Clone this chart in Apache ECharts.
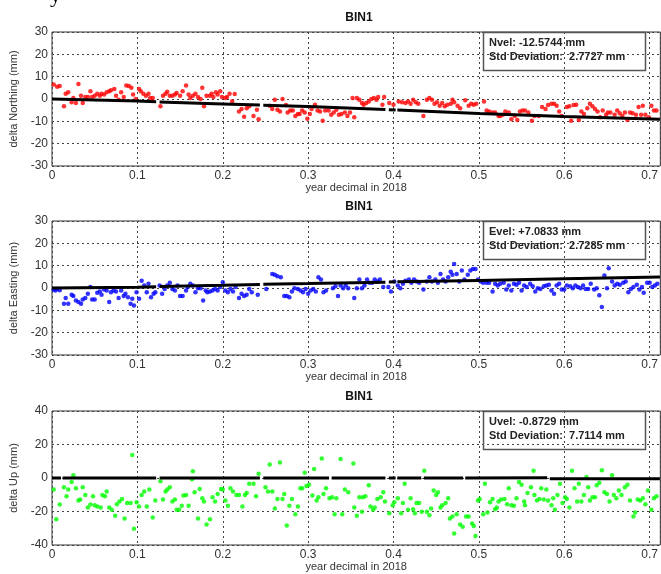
<!DOCTYPE html>
<html><head><meta charset="utf-8">
<script src="https://cdn.jsdelivr.net/npm/echarts@6/dist/echarts.min.js"></script>
<style>html,body{margin:0;padding:0;background:#fff}#c{width:661px;height:574px}</style>
</head><body><div id="c"></div>
<script>
// ---------- data ----------
const panelTitles = ['BIN1', 'BIN1', 'BIN1'];
const yAxisNames = ['delta Northing (mm)', 'delta Easting (mm)', 'delta Up (mm)'];
const xAxisName = 'year decimal in 2018';
const yRanges = [[-30, 30, 10], [-30, 30, 10], [-40, 40, 20]];
const xRange = [0, 0.7125, 0.1];
const boxTexts = [
  ['Nvel: -12.5744 mm', 'Std Deviation:  2.7727 mm'],
  ['Evel: +7.0833 mm', 'Std Deviation:  2.7285 mm'],
  ['Uvel: -0.8729 mm', 'Std Deviation:  7.7114 mm']
];
const seriesColors = ['#ff0000', '#0000ff', '#00ff00'];

const north = [[0.002,6.5],[0.006,5.5],[0.009,5.8],[0.014,-3.3],[0.016,2.4],[0.019,3.0],[0.023,-1.5],[0.025,0.5],[0.028,-1.8],[0.031,6.7],[0.034,1.5],[0.036,-1.8],[0.039,0.9],[0.042,0.9],[0.045,3.5],[0.047,0.9],[0.050,1.5],[0.053,2.4],[0.056,1.5],[0.058,2.4],[0.061,2.0],[0.064,3.0],[0.067,3.5],[0.069,3.9],[0.073,4.5],[0.075,1.5],[0.078,-0.3],[0.081,3.0],[0.084,0.9],[0.087,6.1],[0.090,5.8],[0.093,5.0],[0.095,2.0],[0.098,0.0],[0.102,4.5],[0.104,3.5],[0.107,2.4],[0.110,1.5],[0.113,2.4],[0.115,0.5],[0.118,0.5],[0.127,-3.3],[0.130,1.5],[0.133,2.4],[0.135,3.3],[0.138,1.5],[0.141,1.5],[0.144,2.0],[0.146,2.7],[0.150,1.5],[0.153,3.5],[0.157,6.1],[0.160,2.0],[0.162,0.5],[0.165,1.5],[0.168,2.4],[0.171,0.9],[0.174,0.0],[0.176,5.0],[0.178,-3.3],[0.181,1.5],[0.185,1.5],[0.187,2.4],[0.189,0.9],[0.192,3.0],[0.194,2.0],[0.197,3.5],[0.199,0.9],[0.203,0.5],[0.205,0.9],[0.208,2.4],[0.211,-1.0],[0.214,2.2],[0.219,-5.6],[0.222,-4.5],[0.225,-7.9],[0.228,-4.1],[0.231,-3.3],[0.236,-7.6],[0.240,-4.8],[0.242,-9.1],[0.255,-3.0],[0.258,-4.5],[0.261,-0.3],[0.264,-4.8],[0.267,-5.6],[0.270,0.0],[0.274,-2.7],[0.276,-6.1],[0.279,-5.2],[0.282,-5.2],[0.285,-7.6],[0.288,-6.7],[0.290,-6.7],[0.293,-5.2],[0.296,-6.1],[0.299,-8.8],[0.302,-6.7],[0.304,-4.5],[0.308,-2.6],[0.311,-5.2],[0.314,-5.6],[0.317,-9.7],[0.320,-5.2],[0.324,-5.2],[0.327,-7.1],[0.330,-6.1],[0.333,-4.8],[0.336,-7.1],[0.339,-6.7],[0.343,-6.1],[0.346,-7.6],[0.349,-6.1],[0.352,0.5],[0.354,-8.2],[0.357,0.5],[0.360,-0.3],[0.363,-1.8],[0.365,-2.6],[0.368,-1.8],[0.371,-1.1],[0.374,0.0],[0.377,0.5],[0.380,-0.3],[0.382,0.9],[0.387,-2.6],[0.389,0.9],[0.395,-1.8],[0.400,-2.6],[0.406,-1.1],[0.410,-1.5],[0.414,-1.8],[0.417,-1.1],[0.420,-2.1],[0.423,-0.3],[0.426,-1.5],[0.429,-2.1],[0.435,-7.6],[0.439,-0.3],[0.442,0.5],[0.445,-0.3],[0.448,-2.1],[0.451,-1.5],[0.454,-3.0],[0.457,-1.8],[0.460,-3.3],[0.463,-2.6],[0.467,-2.1],[0.469,-0.3],[0.471,-1.5],[0.475,-3.0],[0.478,-4.1],[0.484,-0.6],[0.488,-3.0],[0.491,-2.1],[0.494,-2.6],[0.497,-2.1],[0.506,-1.1],[0.509,-5.2],[0.512,-5.6],[0.516,-6.1],[0.519,-6.1],[0.523,-7.6],[0.525,-7.6],[0.528,-7.1],[0.531,-5.6],[0.535,-6.1],[0.538,-9.1],[0.542,-7.6],[0.545,-9.4],[0.548,-5.6],[0.551,-5.2],[0.554,-5.2],[0.558,-6.1],[0.562,-9.7],[0.565,-7.6],[0.570,-7.6],[0.574,-3.6],[0.578,-4.5],[0.581,-2.7],[0.585,-2.1],[0.588,-2.1],[0.591,-3.0],[0.594,-5.6],[0.597,-7.6],[0.603,-3.6],[0.606,-3.3],[0.608,-9.7],[0.611,-2.7],[0.614,-2.6],[0.617,-9.4],[0.620,-5.6],[0.623,-6.7],[0.627,-4.1],[0.630,-2.1],[0.633,-3.3],[0.636,-4.5],[0.639,-5.6],[0.642,-8.2],[0.645,-5.2],[0.649,-7.1],[0.651,-6.1],[0.654,-6.1],[0.659,-7.1],[0.662,-5.2],[0.665,-6.4],[0.668,-7.6],[0.671,-6.1],[0.674,-9.4],[0.677,-6.1],[0.680,-6.4],[0.684,-7.1],[0.687,-3.6],[0.690,-7.1],[0.692,-3.0],[0.695,-7.1],[0.699,-8.2],[0.702,-3.0],[0.705,-5.2],[0.708,-5.2]];

const east = [[0.002,-0.7],[0.004,-1.1],[0.006,-0.4],[0.009,-1.0],[0.014,-7.0],[0.016,-4.5],[0.019,-7.0],[0.023,-3.0],[0.025,-3.6],[0.028,-5.6],[0.031,-6.3],[0.034,-7.0],[0.036,-5.1],[0.039,-4.5],[0.042,-2.6],[0.045,0.4],[0.047,-5.1],[0.050,-5.1],[0.053,-2.1],[0.056,-1.6],[0.058,-3.0],[0.061,-0.7],[0.064,-1.1],[0.067,-6.3],[0.069,-1.9],[0.072,-1.1],[0.075,-1.6],[0.078,-4.5],[0.081,-1.1],[0.084,-3.6],[0.086,-2.6],[0.089,-4.1],[0.092,-7.0],[0.094,-4.8],[0.096,-7.8],[0.099,-1.9],[0.102,-4.8],[0.105,3.3],[0.108,1.1],[0.111,-1.9],[0.113,1.9],[0.116,-4.1],[0.119,-2.6],[0.121,-1.9],[0.126,1.1],[0.129,-2.6],[0.132,-0.4],[0.135,1.1],[0.138,2.3],[0.141,-0.4],[0.144,-1.1],[0.147,1.1],[0.150,-3.6],[0.153,-3.6],[0.157,-1.1],[0.159,0.4],[0.162,1.9],[0.165,1.1],[0.168,-1.9],[0.171,-0.1],[0.174,-0.1],[0.177,-5.6],[0.180,-1.1],[0.182,-1.9],[0.185,-1.6],[0.188,-1.1],[0.191,-0.4],[0.194,-1.1],[0.197,0.4],[0.200,2.6],[0.203,-1.1],[0.206,-1.9],[0.209,-0.4],[0.212,-1.6],[0.215,0.4],[0.219,-4.5],[0.222,-2.6],[0.225,-3.6],[0.228,-3.0],[0.231,-0.4],[0.234,-1.9],[0.241,-3.0],[0.251,-0.4],[0.258,6.3],[0.261,5.9],[0.264,5.3],[0.268,4.8],[0.272,-3.6],[0.275,-3.6],[0.278,-4.1],[0.281,-1.6],[0.284,-0.1],[0.288,-0.4],[0.291,-1.1],[0.294,-1.9],[0.297,-0.4],[0.300,-2.6],[0.303,-1.1],[0.306,-0.4],[0.309,-1.6],[0.312,4.8],[0.315,3.8],[0.318,-1.9],[0.321,-1.1],[0.329,-0.1],[0.332,0.8],[0.335,-3.6],[0.338,1.1],[0.341,-0.1],[0.344,1.1],[0.347,-0.1],[0.354,-4.5],[0.357,-0.1],[0.360,3.8],[0.363,-0.1],[0.366,1.1],[0.369,3.8],[0.372,2.3],[0.375,2.3],[0.378,3.8],[0.381,2.9],[0.384,3.8],[0.388,0.4],[0.394,0.4],[0.397,-1.6],[0.401,2.9],[0.405,1.1],[0.408,-0.1],[0.411,1.9],[0.414,3.3],[0.418,3.8],[0.421,2.3],[0.424,3.8],[0.427,2.9],[0.430,2.3],[0.435,-0.7],[0.439,2.9],[0.442,4.8],[0.445,2.9],[0.449,3.8],[0.452,2.3],[0.455,6.3],[0.458,3.8],[0.461,2.9],[0.464,4.8],[0.467,7.3],[0.469,5.9],[0.471,10.7],[0.474,6.3],[0.477,2.9],[0.480,7.8],[0.483,3.8],[0.487,5.9],[0.490,7.8],[0.493,8.5],[0.496,8.5],[0.499,3.8],[0.502,2.9],[0.505,2.3],[0.509,2.3],[0.512,2.3],[0.516,-1.6],[0.519,1.9],[0.522,1.1],[0.525,1.9],[0.529,2.3],[0.532,-0.7],[0.535,1.1],[0.538,-1.1],[0.541,1.9],[0.544,1.5],[0.547,2.3],[0.550,-1.1],[0.553,1.1],[0.556,0.4],[0.560,1.9],[0.563,0.8],[0.566,-1.6],[0.569,-0.1],[0.572,-0.4],[0.576,0.8],[0.579,1.1],[0.582,1.5],[0.585,-1.1],[0.588,-2.6],[0.591,1.1],[0.594,1.9],[0.597,-0.7],[0.600,-0.7],[0.603,1.1],[0.607,0.8],[0.610,-0.1],[0.613,1.1],[0.616,0.4],[0.619,-0.1],[0.622,1.1],[0.625,-0.4],[0.628,-0.4],[0.631,1.9],[0.635,-0.7],[0.638,-0.1],[0.641,-3.3],[0.644,-8.5],[0.647,5.6],[0.650,-0.1],[0.652,8.8],[0.656,2.9],[0.659,1.1],[0.662,1.9],[0.665,1.5],[0.669,2.3],[0.672,2.9],[0.675,-1.9],[0.678,-0.4],[0.681,0.4],[0.685,1.5],[0.688,-0.7],[0.691,0.4],[0.693,-2.1],[0.697,2.3],[0.700,2.3],[0.703,0.4],[0.706,1.1],[0.709,1.9]];

const up = [[0.002,-6.9],[0.005,-24.6],[0.009,-15.8],[0.014,-5.5],[0.017,-10.9],[0.019,-6.9],[0.023,-2.4],[0.025,1.6],[0.028,-6.1],[0.031,-13.5],[0.033,-12.9],[0.036,-5.5],[0.039,-10.1],[0.042,-17.6],[0.045,-15.8],[0.048,-10.9],[0.050,-16.2],[0.053,-17.0],[0.057,-17.6],[0.059,-10.1],[0.062,-10.9],[0.064,-8.1],[0.067,-17.6],[0.070,-19.0],[0.074,-22.6],[0.076,-15.6],[0.079,-14.1],[0.082,-12.5],[0.085,-24.2],[0.088,-14.9],[0.092,-14.9],[0.094,13.7],[0.096,-30.3],[0.099,-14.5],[0.102,-17.0],[0.105,-10.1],[0.108,-8.1],[0.111,-17.0],[0.114,-6.9],[0.118,-23.6],[0.121,-13.5],[0.127,-2.0],[0.130,-12.9],[0.133,-8.1],[0.135,-6.9],[0.138,-5.5],[0.141,-14.1],[0.144,-12.9],[0.146,-19.0],[0.149,-19.0],[0.152,-16.6],[0.154,-10.5],[0.157,-10.1],[0.160,-16.6],[0.164,-0.8],[0.165,4.0],[0.167,-8.5],[0.171,-24.2],[0.173,-6.5],[0.176,-12.1],[0.178,-14.1],[0.181,-27.7],[0.185,-24.6],[0.188,-11.5],[0.191,-14.1],[0.194,-9.5],[0.198,-6.5],[0.200,-6.9],[0.203,-13.5],[0.206,-16.6],[0.209,-6.1],[0.212,-8.1],[0.216,-10.1],[0.219,-10.1],[0.223,-17.0],[0.226,-10.1],[0.228,-8.9],[0.231,-3.4],[0.236,-3.4],[0.239,-10.9],[0.242,2.6],[0.250,-5.5],[0.253,-8.1],[0.255,8.1],[0.258,-8.1],[0.261,-18.2],[0.264,-12.5],[0.267,9.3],[0.270,-12.5],[0.272,-9.5],[0.275,-28.3],[0.278,-16.6],[0.281,-12.5],[0.285,-21.6],[0.288,-17.0],[0.291,-6.1],[0.293,-6.1],[0.296,3.2],[0.298,-4.8],[0.301,-4.0],[0.305,-10.5],[0.307,5.3],[0.310,-13.5],[0.312,-11.5],[0.316,11.7],[0.318,-9.5],[0.321,-6.1],[0.325,-12.1],[0.328,-11.5],[0.331,-21.6],[0.333,-12.1],[0.338,11.3],[0.340,-21.6],[0.343,-6.9],[0.347,-8.5],[0.353,8.7],[0.354,-17.6],[0.357,-22.6],[0.360,-11.5],[0.363,-20.2],[0.364,-11.5],[0.367,-10.9],[0.371,-4.4],[0.373,-17.0],[0.376,-19.0],[0.378,-17.6],[0.381,-12.5],[0.385,-11.5],[0.388,-8.5],[0.390,-14.1],[0.395,-21.0],[0.399,-16.2],[0.401,-14.5],[0.405,-12.1],[0.409,-21.0],[0.411,-14.9],[0.413,-3.4],[0.417,-19.0],[0.420,-12.1],[0.423,-18.6],[0.425,-21.0],[0.427,-14.9],[0.430,-14.9],[0.433,-20.2],[0.436,4.4],[0.439,-20.2],[0.442,-22.2],[0.444,-18.2],[0.447,-7.5],[0.450,-10.1],[0.452,-8.5],[0.455,-17.6],[0.457,-16.2],[0.461,-14.9],[0.464,-12.1],[0.466,-24.2],[0.469,-23.0],[0.471,-33.1],[0.474,-21.6],[0.478,-27.7],[0.481,-29.1],[0.485,-23.0],[0.488,-23.0],[0.492,-27.1],[0.494,-28.7],[0.496,-34.7],[0.499,-13.5],[0.501,-12.5],[0.505,-21.6],[0.507,-3.4],[0.510,-20.6],[0.513,-14.5],[0.516,-12.5],[0.519,-18.6],[0.521,-17.6],[0.523,-14.1],[0.526,-12.9],[0.530,-12.5],[0.533,-15.6],[0.535,-6.1],[0.538,-16.2],[0.541,-16.6],[0.544,-12.1],[0.547,-2.4],[0.550,-4.0],[0.553,-14.1],[0.554,-16.2],[0.557,-8.9],[0.561,-5.5],[0.564,4.4],[0.565,-10.1],[0.568,-13.5],[0.571,-12.5],[0.573,-6.1],[0.576,-12.9],[0.579,-6.9],[0.581,-13.5],[0.585,-16.2],[0.587,-12.1],[0.589,-19.0],[0.592,-10.1],[0.595,-3.4],[0.598,-14.9],[0.601,-11.5],[0.603,-12.5],[0.606,-17.6],[0.609,4.4],[0.612,-6.1],[0.615,-14.1],[0.617,-3.4],[0.620,-14.1],[0.623,-10.1],[0.626,0.6],[0.628,-5.5],[0.630,-13.5],[0.633,-11.5],[0.636,-11.5],[0.638,-4.4],[0.641,-2.8],[0.644,4.6],[0.647,-8.5],[0.650,-9.5],[0.653,-14.1],[0.656,1.6],[0.658,-10.1],[0.661,-12.1],[0.664,-7.5],[0.667,-10.1],[0.671,-5.5],[0.674,-4.0],[0.677,-13.5],[0.681,-23.0],[0.683,-20.6],[0.686,-12.9],[0.689,-13.5],[0.692,-12.1],[0.695,-15.6],[0.698,-7.5],[0.702,-19.0],[0.705,-12.1],[0.708,-10.9]];

// trend lines; each inner list is one unbroken run of dots
const northTrend = [[[0,0],[0.1,-0.9],[0.122,-1.2]],[[0.126,-1.3],[0.2,-2.2],[0.2435,-2.7]],[[0.2475,-2.8],[0.3,-3.4],[0.3905,-4.7]],[[0.3945,-4.8],[0.4025,-4.9]],[[0.4045,-4.9],[0.5,-6.5],[0.6,-7.8],[0.712,-9.1]]];
const eastTrend = [[[0,0],[0.1,0.3],[0.122,0.6]],[[0.126,0.7],[0.2,1.2],[0.2435,1.6]],[[0.2475,1.7],[0.3,2.0],[0.3905,2.6]],[[0.3945,2.7],[0.4025,2.8]],[[0.4045,2.8],[0.5,3.4],[0.6,4.1],[0.712,4.9]]];
const upTrend = [[[0,0],[0.0105,0]],[[0.0125,0],[0.122,0]],[[0.126,0],[0.2435,0]],[[0.2475,0],[0.3245,0]],[[0.3275,0],[0.3905,0]],[[0.3945,0],[0.4025,0]],[[0.4045,0],[0.4325,0]],[[0.4355,0],[0.4815,0]],[[0.484,0],[0.58,0.2]],[[0.583,-0.4],[0.712,-0.5]]];

const panelData = [north, east, up];
const panelTrend = [northTrend, eastTrend, upTrend];

// ---------- layout ----------
const gridTops = [32, 221, 411];
const gridH = 134, gridL = 52, gridW = 612;
const fontFam = 'Arial, "Liberation Sans", Helvetica, sans-serif';

function joinRuns(runs) {
  const out = [];
  runs.forEach((r, i) => { if (i > 0) out.push([r[0][0], '-']); r.forEach(p => out.push(p)); });
  return out;
}

const grids = [], xAxes = [], yAxes = [], series = [], graphics = [];
for (let i = 0; i < 3; i++) {
  grids.push({ left: gridL, top: gridTops[i], width: gridW, height: gridH, show: true,
    borderColor: '#333', borderWidth: 1, backgroundColor: 'transparent' });
  const split = { show: true, lineStyle: { color: '#444', width: 1, type: [2, 3] } };
  xAxes.push({ gridIndex: i, type: 'value', min: xRange[0], max: xRange[1], interval: xRange[2],
    name: xAxisName, nameLocation: 'middle', nameGap: 16,
    nameTextStyle: { color: '#333', fontSize: 11, fontFamily: fontFam },
    axisLine: { show: false }, axisTick: { show: false }, splitLine: split,
    axisLabel: { color: '#333', fontSize: 12, fontFamily: fontFam, margin: 4, showMaxLabel: false } });
  yAxes.push({ gridIndex: i, type: 'value', min: yRanges[i][0], max: yRanges[i][1], interval: yRanges[i][2],
    name: yAxisNames[i], nameLocation: 'middle', nameGap: 27,
    nameTextStyle: { color: '#333', fontSize: 11, fontFamily: fontFam },
    axisLine: { show: false }, axisTick: { show: false }, splitLine: split,
    axisLabel: { color: '#333', fontSize: 12, fontFamily: fontFam, margin: 4 } });
  series.push({ type: 'scatter', xAxisIndex: i, yAxisIndex: i, data: panelData[i],
    symbol: 'circle', symbolSize: 4.5, itemStyle: { color: seriesColors[i] }, z: 3, silent: true });
  series.push({ type: 'line', xAxisIndex: i, yAxisIndex: i, data: joinRuns(panelTrend[i]),
    showSymbol: false, connectNulls: false, lineStyle: { color: '#000', width: 3 }, z: 4, silent: true });
  graphics.push({ type: 'text', x: 359, y: gridTops[i] - 14, z: 10,
    style: { text: panelTitles[i], font: 'bold 12px ' + fontFam, fill: '#111', align: 'center', verticalAlign: 'middle' } });
  graphics.push({ type: 'rect', shape: { x: 483.5, y: gridTops[i] + 0.5, width: 162, height: 38 }, z: 10,
    style: { fill: 'none', stroke: '#555', lineWidth: 1.5 } });
  graphics.push({ type: 'text', x: 489, y: gridTops[i] + 11, z: 10,
    style: { text: boxTexts[i][0], font: 'bold 11px ' + fontFam, fill: '#222', align: 'left', verticalAlign: 'middle' } });
  graphics.push({ type: 'text', x: 489, y: gridTops[i] + 25, z: 10,
    style: { text: boxTexts[i][1], font: 'bold 11px ' + fontFam, fill: '#222', align: 'left', verticalAlign: 'middle' } });
}
// fragment of the caption line above the figure, cut by the crop
graphics.push({ type: 'text', x: 50, y: -4, z: 10,
  style: { text: 'y', font: '22px "Liberation Serif", "Times New Roman", serif', fill: '#000', align: 'left', verticalAlign: 'middle' } });

const chart = echarts.init(document.getElementById('c'), null, { renderer: 'canvas' });
chart.setOption({
  animation: false,
  backgroundColor: '#fff',
  grid: grids, xAxis: xAxes, yAxis: yAxes, series: series, graphic: graphics
});
</script></body></html>
